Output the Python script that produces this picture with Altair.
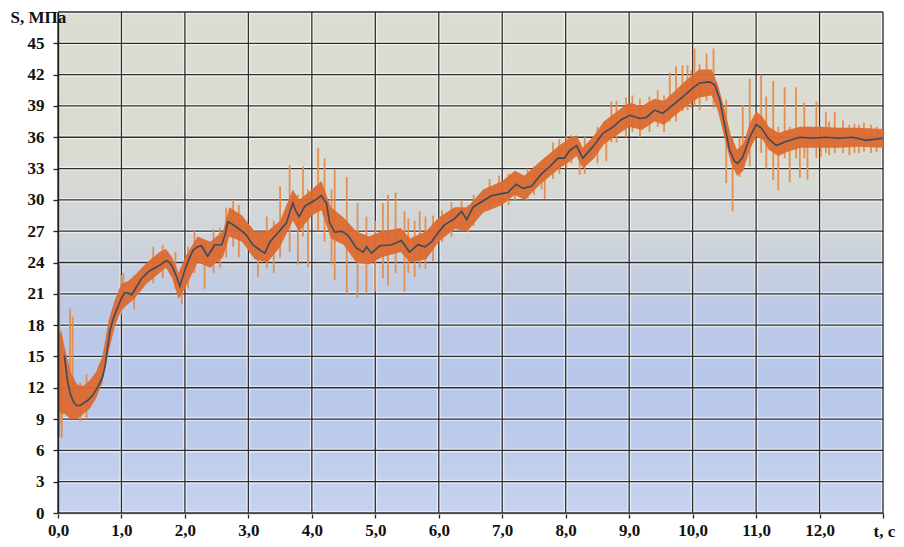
import altair as alt
import pandas as pd

# ---- smoothed (mean) curve, t in s, S in MPa ----
mean_t = [0.10, 0.15, 0.20, 0.25, 0.29, 0.35, 0.47, 0.55, 0.63, 0.70, 0.74, 0.78, 0.82, 0.87, 0.92,
          1.00, 1.05, 1.10, 1.16, 1.25, 1.32, 1.42, 1.53, 1.62, 1.71, 1.76, 1.81, 1.87, 1.92,
          2.00, 2.07, 2.13, 2.20, 2.26, 2.31, 2.36, 2.42, 2.47, 2.58, 2.63, 2.68, 2.74, 2.81, 2.90, 2.97,
          3.07, 3.18, 3.26, 3.34, 3.46, 3.60, 3.65, 3.70, 3.75, 3.80, 3.89,
          4.00, 4.08, 4.15, 4.23, 4.28, 4.36, 4.47, 4.57, 4.70, 4.81, 4.86, 4.94,
          5.07, 5.26, 5.41, 5.54, 5.67, 5.78, 5.89, 5.97,
          6.09, 6.25, 6.36, 6.44, 6.54, 6.67, 6.83, 6.99,
          7.09, 7.22, 7.33, 7.46, 7.62, 7.75, 7.88, 7.98,
          8.06, 8.17, 8.27, 8.43, 8.59, 8.75, 8.88,
          9.01, 9.17, 9.27, 9.40, 9.53, 9.69, 9.85,
          10.00, 10.11, 10.27, 10.35, 10.43, 10.50, 10.58, 10.66, 10.71, 10.79, 10.90,
          11.00, 11.08, 11.19, 11.32, 11.47, 11.69, 11.90,
          12.10, 12.31, 12.52, 12.73, 13.00]
mean_s = [15.1, 12.6, 11.3, 10.6, 10.3, 10.3, 10.8, 11.3, 12.1, 13.0, 14.0, 15.8, 17.5, 18.6, 19.4,
          20.6, 21.1, 21.1, 20.9, 21.8, 22.5, 23.1, 23.5, 23.8, 24.2, 24.0, 23.5, 22.6, 21.7,
          23.3, 24.4, 25.2, 25.5, 25.6, 25.1, 24.6, 25.2, 25.7, 25.7, 26.6, 27.9, 27.7, 27.4, 27.0, 26.6,
          25.7, 25.2, 24.9, 26.0, 26.8, 27.8, 28.8, 29.7, 28.9, 28.4, 29.4,
          29.8, 30.1, 30.4, 29.7, 27.8, 26.9, 27.0, 26.6, 25.4, 25.0, 25.5, 24.9,
          25.6, 25.7, 26.1, 25.0, 25.7, 25.5, 26.0, 26.7,
          27.6, 28.2, 28.9, 28.1, 29.3, 29.8, 30.4, 30.6,
          30.7, 31.5, 31.1, 31.3, 32.5, 33.2, 34.0, 34.0,
          34.7, 35.2, 34.0, 35.1, 36.4, 37.0, 37.7,
          38.1, 37.8, 37.9, 38.6, 38.3, 39.1, 39.9,
          40.7, 41.2, 41.3, 41.0, 39.6, 37.3, 34.8, 33.7, 33.5, 34.1, 36.0,
          37.2, 36.9, 35.9, 35.2, 35.6, 36.0, 35.9,
          36.0, 35.9, 36.0, 35.7, 35.9]

# ---- dense raw-signal band (lower / upper edge) ----
band_t = [0.00, 0.05, 0.10, 0.20, 0.30, 0.40, 0.50, 0.60, 0.70, 0.80, 0.90, 1.00, 1.10, 1.20, 1.40,
          1.60, 1.70, 1.80, 1.90, 2.00, 2.20, 2.40, 2.60, 2.70, 2.90, 3.10, 3.30, 3.50, 3.70, 3.80,
          4.00, 4.15, 4.30, 4.50, 4.70, 4.90, 5.10, 5.40, 5.55, 5.80, 6.00, 6.25, 6.45, 6.70,
          7.00, 7.20, 7.35, 7.60, 7.90, 8.05, 8.17, 8.27, 8.45, 8.60, 8.90, 9.00, 9.20, 9.40,
          9.55, 9.70, 9.85, 10.00, 10.10, 10.30, 10.40, 10.50, 10.60, 10.70, 10.80, 10.90,
          11.00, 11.10, 11.20, 11.35, 11.50, 11.70, 12.00, 12.30, 12.60, 13.00]
band_lo = [10.0, 9.5, 9.5, 9.0, 9.0, 9.5, 10.0, 11.0, 12.5, 15.5, 18.0, 19.5, 20.0, 20.5, 22.0,
           23.0, 23.5, 22.5, 20.5, 21.5, 24.0, 23.5, 24.5, 26.5, 26.0, 24.3, 24.0, 25.5, 28.0, 27.0,
           28.5, 29.0, 26.3, 25.7, 24.0, 23.8, 24.5, 25.0, 24.0, 24.3, 26.0, 27.2, 27.0, 28.8,
           29.5, 30.5, 30.0, 31.5, 33.0, 33.6, 34.2, 33.0, 34.0, 35.3, 36.6, 37.0, 36.7, 37.5,
           37.2, 38.0, 38.7, 39.4, 39.8, 40.0, 38.5, 36.0, 33.6, 32.3, 32.8, 34.8,
           36.0, 35.8, 34.8, 34.2, 34.6, 35.0, 35.0, 35.0, 35.1, 35.0]
band_hi = [17.0, 17.5, 16.0, 13.5, 12.3, 12.2, 12.7, 13.5, 15.0, 18.5, 20.5, 22.0, 22.2, 22.7, 24.0,
           25.0, 25.3, 24.5, 23.0, 24.5, 26.5, 26.0, 27.0, 29.3, 28.5, 27.0, 27.0, 28.0, 31.0, 30.0,
           31.0, 31.8, 29.3, 28.3, 27.0, 26.5, 27.0, 27.3, 26.3, 27.0, 28.3, 29.3, 29.3, 31.0,
           31.8, 32.8, 32.3, 33.7, 35.2, 35.9, 36.2, 35.0, 36.2, 37.5, 38.9, 39.3, 39.0, 39.7,
           39.5, 40.3, 41.2, 42.0, 42.5, 42.5, 41.0, 38.8, 36.2, 34.8, 35.4, 37.3,
           38.5, 38.0, 37.0, 36.4, 36.7, 37.0, 37.0, 36.9, 36.9, 36.8]

# ---- isolated spikes of the raw signal: time, bottom, top ----
spike_t = [0.02, 0.05, 0.06, 0.19, 0.23, 0.35, 0.45, 1.00,
           1.03, 1.20, 1.50, 1.65, 1.85, 1.95, 2.05, 2.15, 2.55, 2.65,
           2.31, 2.45, 2.76, 2.85, 3.15, 3.29, 3.40, 3.50, 3.65, 3.78, 3.86, 3.94,
           4.10, 4.20, 4.31, 4.36, 4.55, 4.72, 4.86, 5.00, 5.12, 5.20, 5.32, 5.46, 5.52, 5.62,
           5.70, 5.79, 5.91, 6.05, 6.20, 6.36, 6.46, 6.55, 6.80, 6.95, 7.10, 7.20, 7.40, 7.50,
           7.62, 7.67, 7.80, 7.90, 8.01, 8.09, 8.22, 8.30, 8.50, 8.64, 8.72, 8.80, 8.95,
           9.05, 9.17, 9.32, 9.45, 9.55, 9.64, 9.74, 9.84, 9.92, 9.98, 10.03, 10.11, 10.22, 10.33,
           10.53, 10.63, 10.74, 10.79, 10.90, 11.08, 11.16, 11.27, 11.35, 11.45, 11.53, 11.63,
           11.69, 11.76, 11.81, 11.95, 12.02, 12.10, 12.15, 12.24, 12.37, 12.47, 12.55, 12.62,
           12.70, 12.81, 12.90]
spike_lo = [7.3, 8.5, 7.2, 9.0, 9.5, 8.8, 9.0, 19.0,
            19.5, 19.5, 22.0, 22.5, 21.5, 20.0, 21.5, 23.0, 23.5, 24.5,
            21.5, 23.0, 25.5, 24.5, 22.6, 23.5, 23.0, 24.5, 25.0, 23.8, 26.5, 23.6,
            27.0, 26.0, 23.8, 22.3, 21.0, 20.6, 21.0, 21.2, 22.5, 21.8, 23.0, 21.2, 23.0, 22.6,
            23.5, 23.4, 24.1, 26.0, 26.5, 27.5, 26.9, 27.5, 29.0, 29.5, 29.5, 30.0, 30.0, 30.5,
            31.0, 30.1, 32.0, 32.5, 33.0, 33.5, 32.4, 32.5, 33.5, 33.7, 35.5, 35.5, 36.0,
            36.5, 36.0, 36.5, 37.0, 36.5, 37.5, 37.5, 38.5, 38.6, 38.8, 39.0, 38.6, 39.5, 38.8,
            31.6, 28.9, 32.2, 33.0, 33.2, 34.5, 33.0, 31.9, 30.9, 34.0, 31.7, 34.0,
            32.1, 34.0, 31.9, 34.0, 34.1, 34.5, 34.3, 34.5, 34.5, 34.3, 34.5, 34.5,
            34.6, 34.5, 34.6]
spike_hi = [23.8, 17.0, 14.0, 19.6, 18.8, 12.5, 13.3, 22.8,
            23.0, 22.8, 25.5, 25.7, 25.0, 23.5, 25.5, 27.0, 27.3, 29.2,
            26.0, 27.2, 30.0, 29.5, 27.0, 28.4, 28.0, 31.3, 33.3, 30.5, 33.2, 31.0,
            35.0, 34.0, 31.0, 32.9, 32.2, 29.7, 28.4, 28.0, 29.7, 30.5, 30.7, 28.9, 28.2, 28.0,
            28.9, 28.4, 28.5, 29.0, 29.8, 30.0, 29.5, 30.5, 32.0, 32.3, 32.5, 32.5, 33.0, 33.2,
            33.5, 33.0, 35.5, 35.8, 36.1, 36.2, 35.5, 36.0, 37.0, 37.5, 39.4, 39.5, 39.8,
            40.0, 39.7, 39.9, 40.5, 40.0, 42.2, 42.8, 42.9, 42.9, 42.4, 44.5, 43.0, 44.0, 44.5,
            39.6, 36.0, 36.0, 39.1, 41.6, 42.0, 39.9, 41.4, 37.0, 40.8, 37.0, 40.8,
            37.0, 39.3, 37.0, 39.4, 37.0, 38.4, 37.5, 38.4, 37.6, 37.2, 37.3, 37.2,
            37.4, 37.2, 37.0]

# ---- grid / tick positions ----
x_grid = list(range(0, 14))
y_grid = list(range(0, 49, 3))
x_ticks = list(range(0, 14))
y_ticks = list(range(0, 46, 3))

T_MAX, S_MAX = 13, 48
FONT = "Liberation Serif"

mean_df = pd.DataFrame({"t": mean_t, "s": mean_s})
band_df = pd.DataFrame({"t": band_t, "lo": band_lo, "hi": band_hi})
spike_df = pd.DataFrame({"t": spike_t, "lo": spike_lo, "hi": spike_hi})
xg_df = pd.DataFrame({"t": x_grid})
yg_df = pd.DataFrame({"s": y_grid})
bg_df = pd.DataFrame({"t0": [0], "t1": [T_MAX], "s0": [0], "s1": [S_MAX]})

xscale = alt.Scale(domain=[0, T_MAX], nice=False, zero=False)
yscale = alt.Scale(domain=[0, S_MAX], nice=False, zero=False)

xaxis = alt.Axis(values=x_ticks, grid=False, domain=True, ticks=True, tickSize=5,
                 tickColor="#222", domainColor="#222", domainWidth=1.5, tickWidth=1.3,
                 labelExpr="datum.value == 13 ? '' : replace(format(datum.value, '.1f'), '.', ',')",
                 labelFont=FONT, labelFontSize=17, labelFontWeight="bold", labelColor="#111",
                 labelPadding=4, labelFlush=False, labelOverlap=False,
                 title="t, c", titleFont=FONT, titleFontSize=17, titleFontWeight="bold",
                 titleColor="#111", titleX=815, titleY=18, titleAlign="left",
                 titleBaseline="middle", titleAnchor="start", titleLimit=200)
yaxis = alt.Axis(values=y_ticks, grid=False, domain=True, ticks=True, tickSize=5,
                 tickColor="#222", domainColor="#222", domainWidth=1.5, tickWidth=1.3,
                 labelFont=FONT, labelFontSize=17, labelFontWeight="bold", labelColor="#111",
                 labelPadding=9, labelFlush=False, labelOverlap=False,
                 title="S, МПа", titleFont=FONT, titleFontSize=17, titleFontWeight="bold",
                 titleColor="#111", titleAngle=0, titleX=-48, titleY=5, titleAlign="left",
                 titleBaseline="middle", titleAnchor="start", titleLimit=200, zindex=1)

gradient = alt.LinearGradient(
    gradient="linear", x1=0, x2=0, y1=0, y2=1,
    stops=[alt.GradientStop(color="#dddcd1", offset=0.0),
           alt.GradientStop(color="#dadbd1", offset=0.3),
           alt.GradientStop(color="#cdd3dc", offset=0.47),
           alt.GradientStop(color="#bccae6", offset=0.58),
           alt.GradientStop(color="#b7c7ea", offset=0.75),
           alt.GradientStop(color="#c6d2ee", offset=1.0)])

X = lambda f: alt.X(f, scale=xscale, axis=xaxis)
Y = lambda f: alt.Y(f, scale=yscale, axis=yaxis)

bg = alt.Chart(bg_df).mark_rect(color=gradient).encode(
    x=X("t0:Q"), x2="t1:Q", y=Y("s0:Q"), y2="s1:Q")

vhalo = alt.Chart(xg_df).mark_rule(color="#ffffff", strokeWidth=4, opacity=0.55).encode(x=X("t:Q"))
hhalo = alt.Chart(yg_df).mark_rule(color="#ffffff", strokeWidth=4, opacity=0.55).encode(y=Y("s:Q"))
vgrid = alt.Chart(xg_df).mark_rule(color="#2e2e2e", strokeWidth=1.3).encode(x=X("t:Q"))
hgrid = alt.Chart(yg_df).mark_rule(color="#2e2e2e", strokeWidth=1.3).encode(y=Y("s:Q"))

spikes = alt.Chart(spike_df).mark_rule(color="#e58b4a", strokeWidth=1.8, opacity=0.95).encode(
    x=X("t:Q"), y=Y("lo:Q"), y2="hi:Q")

band = alt.Chart(band_df).mark_area(color="#dc6a30", opacity=0.95).encode(
    x=X("t:Q"), y=Y("lo:Q"), y2="hi:Q")

line = alt.Chart(mean_df).mark_line(color="#3c4a60", strokeWidth=1.6).encode(
    x=X("t:Q"), y=Y("s:Q"))

chart = alt.layer(bg, vhalo, hhalo, vgrid, hgrid, spikes, band, line).properties(
    width=825, height=501,
    autosize=alt.AutoSizeParams(type="none"),
    padding={"left": 50, "top": 4, "right": 13, "bottom": 26},
).configure_view(stroke=None).configure(background="#ffffff")

chart.save("out.html", embed_options={"renderer": "svg", "actions": False})
